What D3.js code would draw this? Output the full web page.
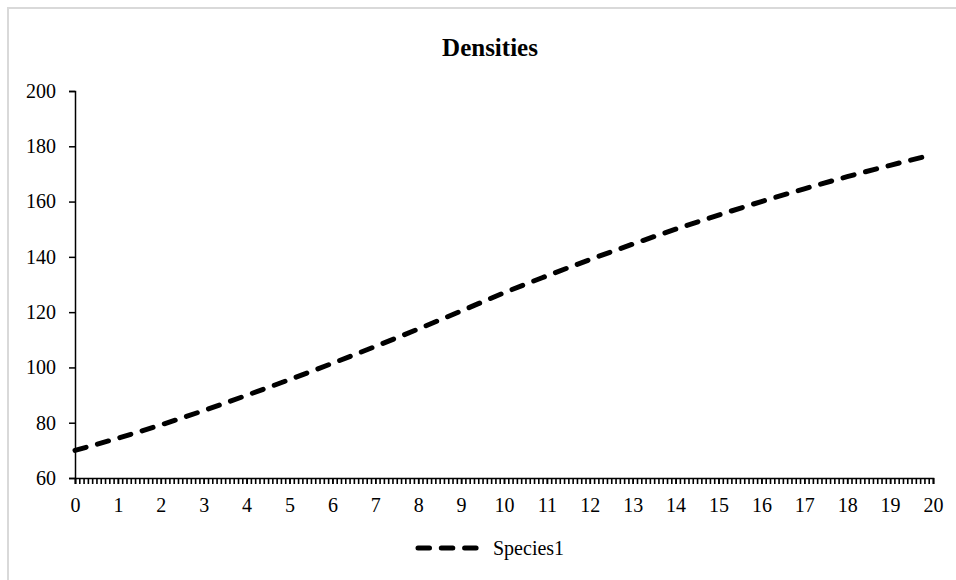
<!doctype html>
<html lang="en">

<head>
    <meta charset="utf-8">
    <title>Densities</title>
    <style>
        body {
            margin: 0px;
            background: #fff;
        }

        text {
            font-family: "Liberation Serif", "Times New Roman", serif;
            font-size: 20px;
            fill: #000;
        }

        .title {
            font-size: 25px;
            font-weight: bold;
            text-anchor: middle;
        }

        .axis path,
        .axis line {
            stroke: #000;
            stroke-width: 1.5;
        }

        .series-line {
            fill: none;
            stroke: #000;
            stroke-width: 5;
            stroke-dasharray: 11.5, 11.8;
            stroke-linecap: round;
        }
    </style>
</head>

<body>
</body>
<script src="https://cdnjs.cloudflare.com/ajax/libs/d3/7.8.5/d3.min.js"></script>
<script>
    // values
    const steps = [0, 1, 2, 3, 4, 5, 6, 7, 8, 9, 10, 11, 12, 13, 14, 15, 16, 17, 18, 19, 20];
    const species1 = [70, 74.4, 79.2, 84.4, 89.9, 95.6, 101.5, 107.6, 113.9, 120.4, 127,
        133.1, 139, 144.6, 150, 155.1, 160, 164.6, 169, 173.1, 177];
    const yTicks = [60, 80, 100, 120, 140, 160, 180, 200];
    const seriesName = 'Species1';
    const chartTitle = 'Densities';

    const width = 956;
    const height = 580;
    const margin = { left: 75, right: 23, top: 91, bottom: 102 };

    const svg = d3.select('body').append('svg')
        .attr('width', width)
        .attr('height', height);

    // chart border (only top/left visible in frame)
    svg.append('rect')
        .attr('x', 8).attr('y', 8)
        .attr('width', width + 20).attr('height', height + 20)
        .attr('fill', '#fff')
        .attr('stroke', '#d9d9d9')
        .attr('stroke-width', 2);

    const x = d3.scaleLinear()
        .domain([0, 20])
        .range([margin.left, width - margin.right]);

    const y = d3.scaleLinear()
        .domain([60, 200])
        .range([height - margin.bottom, margin.top]);

    svg.append('text')
        .attr('class', 'title')
        .attr('x', 490)
        .attr('y', 56)
        .text(chartTitle);

    // y axis
    svg.append('g')
        .attr('class', 'axis')
        .attr('transform', `translate(${margin.left},0)`)
        .call(d3.axisLeft(y).tickValues(yTicks).tickSize(6).tickSizeOuter(6).tickPadding(13));

    // x axis: a tick for every 0.1 category, labels at the integers
    const minorTicks = d3.range(0, 201).map(i => i / 10);
    svg.append('g')
        .attr('class', 'axis minor')
        .attr('transform', `translate(0,${height - margin.bottom})`)
        .call(d3.axisBottom(x).tickValues(minorTicks).tickSize(6).tickSizeOuter(6).tickFormat(''))
        .selectAll('line').style('stroke-width', 1.6);

    svg.append('g')
        .attr('class', 'axis')
        .attr('transform', `translate(0,${height - margin.bottom})`)
        .call(d3.axisBottom(x).tickValues(steps).tickSize(6).tickSizeOuter(6).tickPadding(14))
        .select('.domain').remove();

    svg.selectAll('.axis text').style('font-size', '20px').style('font-family', '"Liberation Serif", serif');

    // series
    const line = d3.line()
        .x((d, i) => x(steps[i]))
        .y(d => y(d))
        .curve(d3.curveMonotoneX);

    svg.append('path')
        .datum(species1)
        .attr('class', 'series-line')
        .attr('d', line);

    // legend
    const legend = svg.append('g').attr('transform', 'translate(418,548)');
    legend.append('line')
        .attr('class', 'series-line')
        .attr('x1', 0).attr('x2', 60)
        .attr('y1', 0).attr('y2', 0);
    legend.append('text')
        .attr('x', 75)
        .attr('y', 7)
        .text(seriesName);
</script>

</html>
